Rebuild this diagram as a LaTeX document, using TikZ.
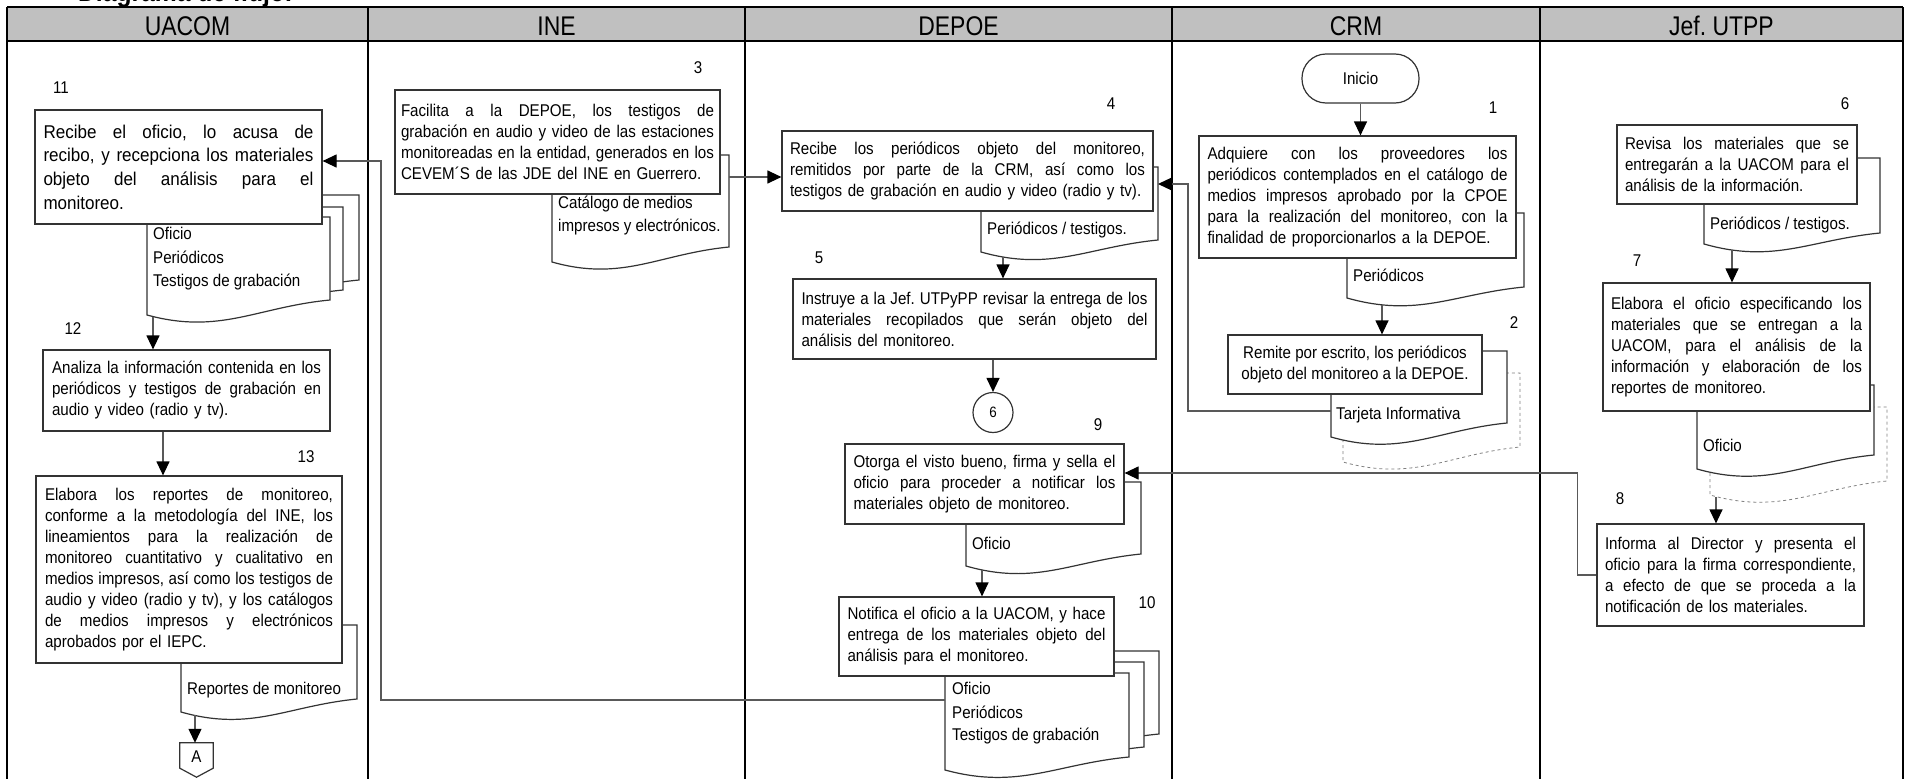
\documentclass[tikz,border=0pt]{standalone}
\usepackage{fontspec}
\setmainfont{Liberation Sans}[FakeStretch=0.89]
\newfontfamily\hdrfont{Liberation Sans}[FakeStretch=0.85]
\newfontfamily\bigfnt{Liberation Sans}[FakeStretch=0.92]
\usetikzlibrary{arrows.meta,calc}
\setlength{\parindent}{0pt}
\frenchspacing
\definecolor{hdrgray}{RGB}{192,192,192}
\newlength{\jwid}
\newcommand{\jl}[1]{\makebox[\jwid][s]{\spaceskip=\fontdimen2\font plus 1fil\relax\xspaceskip=\spaceskip\relax #1}}
\newcommand{\docshp}[6][doc]{%
  \pgfmathsetmacro\dw{#3-#2}%
  \path[#1] (#2,#4) -- (#2,#5) .. controls +(0.4*\dw,20) and +(-0.4*\dw,7) .. (#3,#5-#6) -- (#3,#4) -- cycle;}
\tikzset{
  lane/.style={line width=1.5pt, draw=black},
  proc/.style={draw=black!80, line width=1.2pt, fill=white, inner sep=0pt, align=left, font=\fontsize{17}{21}\selectfont},
  tw/.style={text width=#1, execute at begin node={\setlength{\jwid}{#1pt}\frenchspacing}},
  doc/.style={draw=black!80, line width=1.2pt, fill=white},
  dashdoc/.style={draw=black!50, line width=0.8pt, dashed, fill=white},
  conn/.style={draw=black!65, line width=1.2pt},
  arr/.style={conn, -{Triangle[length=14pt,width=13pt,black]}},
  num/.style={font=\fontsize{17}{21}\selectfont, inner sep=0pt, anchor=base},
  dtext/.style={font=\fontsize{17}{21}\selectfont, inner sep=0pt, anchor=base west},
  hdr/.style={font=\hdrfont\fontsize{27}{30}\selectfont, inner sep=0pt, anchor=base},
}
\begin{document}
\begin{tikzpicture}[x=1pt,y=-1pt]
\useasboundingbox (0,0) rectangle (1912,779);
% partially visible title
\begin{scope}
\clip (0,0) rectangle (1912,7);
\node[anchor=base west, inner sep=0pt, font=\hdrfont\bfseries\fontsize{29}{30}\selectfont] (title) at (78,1.5) {Diagrama de flujo.};
\end{scope}
% header and lanes
\fill[hdrgray] (7,7) rectangle (1903,41);
\draw[lane] (7,7) -- (1903,7);
\draw[lane] (7,41) -- (1903,41);
\foreach \lx in {7,368,745,1172,1540,1903} \draw[lane] (\lx,7) -- (\lx,779);
\node[hdr] (hUA) at (187.5,35) {UACOM};
\node[hdr] (hINE) at (556.5,35) {INE};
\node[hdr] (hDE) at (958.5,35) {DEPOE};
\node[hdr] (hCRM) at (1356,35) {CRM};
\node[hdr] (hJEF) at (1721.5,35) {Jef. UTPP};

% documents (behind boxes)
\docshp{175}{359}{195}{293}{13}
\docshp{161}{343}{207}{303}{13}
\docshp{147}{330}{217}{315}{15}
\docshp{181}{357}{625}{712}{13}
\docshp{552}{729}{155}{262}{15}
\docshp{981}{1158}{167}{252}{12}
\docshp{966}{1141}{482}{566}{12}
\docshp{975}{1159}{651}{747}{13}
\docshp{960}{1144}{662}{760}{13}
\docshp{945}{1129}{673}{770}{13}
\docshp{1347}{1524}{213}{298}{11}
\docshp[dashdoc]{1343}{1520}{373}{462}{15}
\docshp{1331}{1507}{351}{437}{14}
\docshp{1704}{1880}{158}{244}{11}
\docshp[dashdoc]{1710}{1887}{407}{495}{14}
\docshp{1697}{1874}{385}{469}{14}

% document texts
\node[dtext] (t11a) at (153,239) {Oficio};
\node[dtext] (t11b) at (153,263) {Periódicos};
\node[dtext] (t11c) at (153,286) {Testigos de grabación};
\node[dtext] (t13) at (187,694) {Reportes de monitoreo};
\node[dtext] (t3a) at (558,208) {Catálogo de medios};
\node[dtext] (t3b) at (558,231) {impresos y electrónicos.};
\node[dtext] (t4) at (987,234) {Periódicos / testigos.};
\node[dtext] (t9) at (972,549) {Oficio};
\node[dtext] (t10a) at (952,694) {Oficio};
\node[dtext] (t10b) at (952,718) {Periódicos};
\node[dtext] (t10c) at (952,740) {Testigos de grabación};
\node[dtext] (t1) at (1353,281) {Periódicos};
\node[dtext] (t2) at (1336,419) {Tarjeta Informativa};
\node[dtext] (t6) at (1710,229) {Periódicos / testigos.};
\node[dtext] (t7) at (1703,451) {Oficio};

% process boxes
\node[proc, minimum width=287, minimum height=114, tw=270, font=\bigfnt\fontsize{18.5}{23.7}\selectfont] (b11) at (178.5,167)
 {\jl{Recibe el oficio, lo acusa de}\\\jl{recibo, y recepciona los materiales}\\\jl{objeto del análisis para el}\\monitoreo.};
\node[proc, minimum width=287, minimum height=81, tw=269] (b12) at (186.5,390.5)
 {\jl{Analiza la información contenida en los}\\\jl{periódicos y testigos de grabación en}\\audio y video (radio y tv).};
\node[proc, minimum width=306, minimum height=187, tw=288] (b13) at (189,569.5)
 {\jl{Elabora los reportes de monitoreo,}\\\jl{conforme a la metodología del INE, los}\\\jl{lineamientos para la realización de}\\\jl{monitoreo cuantitativo y cualitativo en}\\\jl{medios impresos, así como los testigos de}\\\jl{audio y video (radio y tv), y los catálogos}\\\jl{de medios impresos y electrónicos}\\aprobados por el IEPC.};
\node[proc, minimum width=325, minimum height=104, tw=313] (b3) at (557.5,142)
 {\jl{Facilita a la DEPOE, los testigos de}\\\jl{grabación en audio y video de las estaciones}\\\jl{monitoreadas en la entidad, generados en los}\\CEVEM´S de las JDE del INE en Guerrero.};
\node[proc, minimum width=371, minimum height=80, tw=355] (b4) at (967.5,171)
 {\jl{Recibe los periódicos objeto del monitoreo,}\\\jl{remitidos por parte de la CRM, así como los}\\testigos de grabación en audio y video (radio y tv).};
\node[proc, minimum width=363, minimum height=80, tw=346] (b5) at (974.5,319)
 {\jl{Instruye a la Jef. UTPyPP revisar la entrega de los}\\\jl{materiales recopilados que serán objeto del}\\análisis del monitoreo.};
\node[proc, minimum width=279, minimum height=80, tw=262] (b9) at (984.5,484)
 {\jl{Otorga el visto bueno, firma y sella el}\\\jl{oficio para proceder a notificar los}\\materiales objeto de monitoreo.};
\node[proc, minimum width=275, minimum height=79, tw=258] (b10) at (976.5,636.5)
 {\jl{Notifica el oficio a la UACOM, y hace}\\\jl{entrega de los materiales objeto del}\\análisis para el monitoreo.};
\node[proc, minimum width=317, minimum height=122, tw=300] (b1) at (1357.5,197)
 {\jl{Adquiere con los proveedores los}\\\jl{periódicos contemplados en el catálogo de}\\\jl{medios impresos aprobado por la CPOE}\\\jl{para la realización del monitoreo, con la}\\finalidad de proporcionarlos a la DEPOE.};
\node[proc, minimum width=254, minimum height=59, align=center] (b2) at (1355,364.5)
 {Remite por escrito, los periódicos\\objeto del monitoreo a la DEPOE.};
\node[proc, minimum width=240, minimum height=79, tw=224] (b6) at (1737,164.5)
 {\jl{Revisa los materiales que se}\\\jl{entregarán a la UACOM para el}\\análisis de la información.};
\node[proc, minimum width=267, minimum height=128, tw=251] (b7) at (1736.5,347)
 {\jl{Elabora el oficio especificando los}\\\jl{materiales que se entregan a la}\\\jl{UACOM, para el análisis de la}\\\jl{información y elaboración de los}\\reportes de monitoreo.};
\node[proc, minimum width=267, minimum height=102, tw=251] (b8) at (1730.5,575)
 {\jl{Informa al Director y presenta el}\\\jl{oficio para la firma correspondiente,}\\\jl{a efecto de que se proceda a la}\\notificación de los materiales.};

% terminal, connectors
\node[draw=black!80, line width=1.2pt, fill=white, rounded corners=24pt, minimum width=117, minimum height=49, inner sep=0pt, font=\fontsize{17}{21}\selectfont] (inicio) at (1360.5,78.5) {Inicio};
\node[circle, draw=black!80, line width=1.2pt, fill=white, minimum size=40, inner sep=0pt, font=\fontsize{15}{18}\selectfont] (c6) at (993,412.5) {6};
\node[minimum width=33, minimum height=34, inner sep=0pt, font=\fontsize{17}{21}\selectfont] (A) at (196.5,760) {};
\draw[doc] (A.north west) -- (A.north east) -- ([yshift=9pt]A.south east) -- (A.south) -- ([yshift=9pt]A.south west) -- cycle;
\node[font=\fontsize{17}{21}\selectfont, inner sep=0pt] (Atxt) at (196.5,757) {A};

% step numbers
\node[num] (n11) at (61,93) {11};
\node[num] (n12) at (73,334.5) {12};
\node[num] (n13) at (306,462.5) {13};
\node[num] (n3) at (698,73.5) {3};
\node[num] (n4) at (1111,109.5) {4};
\node[num] (n5) at (819,263.5) {5};
\node[num] (n9) at (1098,430.5) {9};
\node[num] (n10) at (1147,608.5) {10};
\node[num] (n1) at (1493,113.5) {1};
\node[num] (n2) at (1514,328.5) {2};
\node[num] (n6) at (1845,109.5) {6};
\node[num] (n7) at (1637,266.5) {7};
\node[num] (n8) at (1620,504.5) {8};

% connector anchor points on documents
\coordinate (d11b) at (153,317);
\coordinate (d13b) at (195,715);
\coordinate (d3e) at (729,177);
\coordinate (d4b) at (1003,257);
\coordinate (d9b) at (982,570);
\coordinate (d10w) at (945,700);
\coordinate (d1b) at (1382,305);
\coordinate (d2w) at (1331,411);
\coordinate (d4e) at (1158,184);
\coordinate (d6b) at (1732,250);
\coordinate (d7b) at (1716,497);

% connectors
\draw[arr] (inicio.south) -- (inicio.south |- b1.north);
\draw[arr] (d1b) -- (d1b |- b2.north);
\draw[arr] (d2w) -- ++(-143,0) |- (d4e);
\draw[arr] (d3e) -- (b4.west |- d3e);
\draw[arr] (d4b) -- (d4b |- b5.north);
\draw[arr] (c6 |- b5.south) -- (c6.north);
\draw[arr] (d6b) -- (d6b |- b7.north);
\draw[arr] (d7b) -- (d7b |- b8.north);
\draw[arr] (b8.west) -- ++(-19,0) |- ([yshift=11pt]b9.east);
\draw[arr] (d9b) -- (d9b |- b10.north);
\draw[arr] (d10w) -- ++(-564,0) |- ([yshift=6pt]b11.east);
\draw[arr] (d11b) -- (d11b |- b12.north);
\draw[arr] ([xshift=-23.5pt]b12.south) -- ([xshift=-23.5pt]b12.south |- b13.north);
\draw[arr] (d13b) -- (d13b |- A.north);
\end{tikzpicture}
\end{document}
